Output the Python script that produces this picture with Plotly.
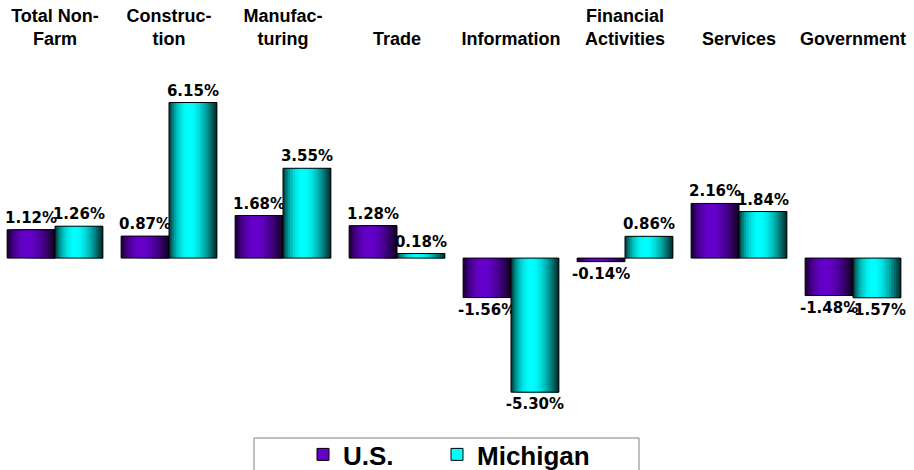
import math
import plotly.graph_objects as go

categories = ["Total Non-<br>Farm", "Construc-<br>tion", "Manufac-<br>turing", "Trade",
              "Information", "Financial<br>Activities", "Services", "Government"]
us_values = [1.12, 0.87, 1.68, 1.28, -1.56, -0.14, 2.16, -1.48]
mi_values = [1.26, 6.15, 3.55, 0.18, -5.30, 0.86, 1.84, -1.57]
series_names = ["U.S.", "Michigan"]

# styling
base_colors = [(102, 0, 204), (0, 255, 255)]
offsets = [-0.42, 0.0]
bar_w = 0.42
n_slices = 20

Y_MIN, Y_MAX = -6.40, 7.83
X_RANGE = [-0.4825, 7.5]
PW = 910.0  # plot width in px


def shade(rgb, t):
    f = 0.16 + 0.84 * math.sin(math.pi * (t ** 0.8))
    return "rgb(%d,%d,%d)" % tuple(int(c * f) for c in rgb)


fig = go.Figure()
for s, (name, vals) in enumerate(zip(series_names, [us_values, mi_values])):
    sw = bar_w / n_slices
    for k in range(n_slices):
        t = (k + 0.5) / n_slices
        fig.add_trace(go.Bar(
            x=categories, y=vals, offset=offsets[s] + k * sw, width=bar_w - k * sw,
            marker=dict(color=shade(base_colors[s], t), line=dict(width=0)),
            showlegend=False, hoverinfo="skip"))
    # outline + labels
    fig.add_trace(go.Bar(
        x=categories, y=vals, offset=offsets[s], width=bar_w,
        marker=dict(color="rgba(0,0,0,0)", line=dict(color="black", width=1)),
        text=["%.2f%%" % v for v in vals], textposition="outside",
        constraintext="none", cliponaxis=False,
        textfont=dict(family="DejaVu Sans", size=15, color="black", weight="bold"),
        showlegend=False, name=name))
    # legend entry
    fig.add_trace(go.Bar(
        x=[None], y=[None], name=name,
        legend="legend" if s == 0 else "legend2",
        marker=dict(color=shade(base_colors[s], 0.45), line=dict(color="black", width=1)),
        showlegend=True))

zero_pos = (0 - Y_MIN) / (Y_MAX - Y_MIN)
legend_font = dict(family="Liberation Sans", size=26, color="black", weight="bold")
leg_y = -0.05 + 7 / 360

fig.update_layout(
    width=914, height=470,
    margin=dict(l=0, r=4, t=60, b=50, autoexpand=False),
    paper_bgcolor="white", plot_bgcolor="white",
    barmode="overlay",
    showlegend=True,
    xaxis=dict(type="category", categoryarray=categories, range=X_RANGE,
               side="top", showline=False, ticks="", showgrid=False,
               ticklabelstandoff=10,
               tickfont=dict(family="Liberation Sans", size=18, color="black", weight="bold")),
    xaxis2=dict(overlaying="x", anchor="free", position=zero_pos, range=X_RANGE,
                showline=True, linecolor="black", linewidth=1,
                ticks="outside", ticklen=5, tickcolor="#888", tickwidth=1,
                tickvals=[i + 0.5 for i in range(-1, 8)],
                showticklabels=False, showgrid=False, zeroline=False),
    yaxis=dict(range=[Y_MIN, Y_MAX], visible=False, showgrid=False, zeroline=False),
    legend=dict(orientation="h", x=303 / PW, y=leg_y, xanchor="left", yanchor="top",
                bgcolor="rgba(0,0,0,0)", borderwidth=0, font=legend_font),
    legend2=dict(orientation="h", x=437 / PW, y=leg_y, xanchor="left", yanchor="top",
                 bgcolor="rgba(0,0,0,0)", borderwidth=0, font=legend_font),
    shapes=[dict(type="rect", xref="paper", yref="paper",
                 x0=254 / PW, x1=639 / PW, y0=-0.20, y1=-0.05,
                 line=dict(color="#808080", width=1), fillcolor="rgba(0,0,0,0)")],
)

fig.write_html("out.html", config={"displayModeBar": False},
               post_script="document.body.style.margin='0';")
